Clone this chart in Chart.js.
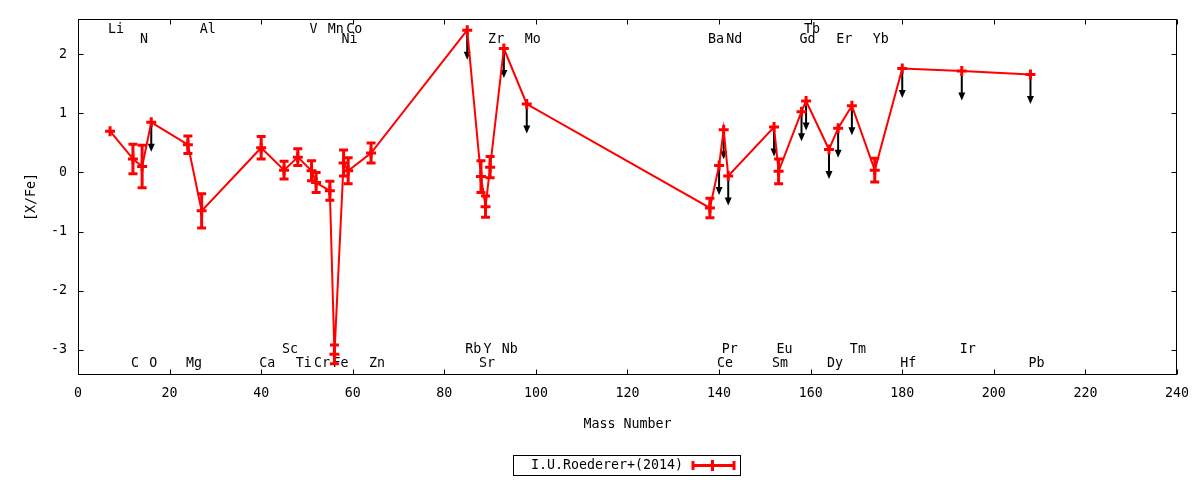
<!DOCTYPE html>
<html>
<head>
<meta charset="utf-8">
<script src="https://cdn.jsdelivr.net/npm/chart.js@4.4.1/dist/chart.umd.min.js"></script>
<style>
  html, body { margin: 0; padding: 0; background: #fff; }
  #wrap { width: 1200px; height: 480px; position: relative; }
</style>
</head>
<body>
<div id="wrap"><canvas id="c" width="1200" height="480"></canvas></div>
<script>
// ---- data ----
const elements = ["Li","C","N","O","Mg","Al","Ca","Sc","Ti","V","Cr","Mn","Fe","Ni","Co","Zn","Rb","Sr","Y","Zr","Nb","Mo","Ba","Ce","Pr","Nd","Sm","Eu","Gd","Tb","Dy","Er","Tm","Yb","Hf","Ir","Pb"];
const masses = [7,12,14,16,24,27,40,45,48,51,52,55,56,58,59,64,85,88,89,90,93,98,138,140,141,142,152,153,158,159,164,166,169,174,180,193,208];
const values = [0.70,0.23,0.10,0.85,0.47,-0.65,0.42,0.04,0.26,0.03,-0.17,-0.31,-3.08,0.16,0.03,0.33,2.41,-0.07,-0.58,0.09,2.10,1.16,-0.60,0.12,0.725,-0.06,0.77,0.02,1.03,1.21,0.39,0.75,1.13,0.04,1.76,1.72,1.66];
const errors = [0,0.25,0.36,0,0.15,0.29,0.19,0.15,0.14,0.17,0.17,0.16,0.16,0.22,0.22,0.17,0,0.27,0.18,0.18,0,0,0.165,0,0,0,0,0.21,0,0,0,0,0,0.2,0,0,0];
const upperLimit = [0,0,0,1,0,0,0,0,0,0,0,0,0,0,0,0,1,0,0,0,1,1,0,1,1,1,1,0,1,1,1,1,1,0,1,1,1];
const arrowLength = 0.5;

const labelNames = ["Li","Al","V","Mn","Co","Tb",
                    "N","Ni","Zr","Mo","Ba","Nd","Gd","Er","Yb",
                    "Sc","Rb","Y","Nb","Pr","Eu","Tm","Ir",
                    "C","O","Mg","Ca","Ti","Cr","Fe","Zn","Sr","Ce","Sm","Dy","Hf","Pb"];
const labelMass = [7,27,51,55,59,159,
                   14,58,90,98,138,142,158,166,174,
                   45,85,89,93,141,153,169,193,
                   12,16,24,40,48,52,56,64,88,140,152,164,180,208];
const labelRow = [0,0,0,0,0,0,
                  1,1,1,1,1,1,1,1,1,
                  2,2,2,2,2,2,2,2,
                  3,3,3,3,3,3,3,3,3,3,3,3,3,3];

const xTicks = [0,20,40,60,80,100,120,140,160,180,200,220,240];
const yTicks = [-3,-2,-1,0,1,2];
const seriesName = "I.U.Roederer+(2014)";
const xTitle = "Mass Number";
const yTitle = "[X/Fe]";

// ---- styling ----
const FONT = "13.3px 'DejaVu Sans Mono'";
const RED = "#ff0000";
Chart.defaults.font.family = "'DejaVu Sans Mono'";
Chart.defaults.font.size = 13.3;
Chart.defaults.color = "#000";

const points = masses.map((m, i) => ({ x: m, y: values[i] }));

const decor = {
  id: 'decor',
  beforeDatasetsDraw(chart) {
    const ctx = chart.ctx;
    const xs = chart.scales.x, ys = chart.scales.y;
    const a = chart.chartArea;
    ctx.save();
    // element labels
    ctx.font = FONT;
    ctx.fillStyle = "#000";
    ctx.textAlign = "left";
    ctx.textBaseline = "middle";
    const rowY = [a.top + 10.5, a.top + 20.5, a.bottom - 25.5, a.bottom - 11.5];
    labelNames.forEach((n, i) => {
      ctx.fillText(n, xs.getPixelForValue(labelMass[i]) - 2, rowY[labelRow[i]]);
    });
    // upper limit arrows
    ctx.strokeStyle = "#000";
    ctx.fillStyle = "#000";
    ctx.lineWidth = 2;
    masses.forEach((m, i) => {
      if (!upperLimit[i]) return;
      const px = xs.getPixelForValue(m);
      const py = ys.getPixelForValue(values[i]);
      const ty = ys.getPixelForValue(values[i] - arrowLength);
      ctx.beginPath();
      ctx.moveTo(px, py);
      ctx.lineTo(px, ty - 4);
      ctx.stroke();
      ctx.beginPath();
      ctx.moveTo(px - 3.5, ty - 8);
      ctx.lineTo(px + 3.5, ty - 8);
      ctx.lineTo(px, ty);
      ctx.closePath();
      ctx.fill();
    });
    // error bars
    ctx.strokeStyle = RED;
    ctx.lineWidth = 3;
    masses.forEach((m, i) => {
      if (!errors[i]) return;
      const px = xs.getPixelForValue(m);
      const y1 = ys.getPixelForValue(values[i] + errors[i]);
      const y2 = ys.getPixelForValue(values[i] - errors[i]);
      ctx.beginPath();
      ctx.moveTo(px, y1); ctx.lineTo(px, y2);
      ctx.moveTo(px - 4.5, y1); ctx.lineTo(px + 4.5, y1);
      ctx.moveTo(px - 4.5, y2); ctx.lineTo(px + 4.5, y2);
      ctx.stroke();
    });
    ctx.restore();
  },
  afterDraw(chart) {
    const ctx = chart.ctx;
    const xs = chart.scales.x, ys = chart.scales.y;
    const a = chart.chartArea;
    ctx.save();
    // frame
    const L = Math.round(a.left) + 0.5, R = Math.round(a.right) - 0.5;
    const T = Math.round(a.top) + 0.5, B = Math.round(a.bottom) - 0.5;
    ctx.strokeStyle = "#000";
    ctx.lineWidth = 1;
    ctx.strokeRect(L, T, R - L, B - T);
    // inward ticks on all sides
    const tl = 5;
    ctx.beginPath();
    xTicks.forEach(v => {
      const p = Math.round(xs.getPixelForValue(v)) + 0.5;
      ctx.moveTo(p, B); ctx.lineTo(p, B - tl);
      ctx.moveTo(p, T); ctx.lineTo(p, T + tl);
    });
    yTicks.forEach(v => {
      const p = Math.round(ys.getPixelForValue(v)) + 0.5;
      ctx.moveTo(L, p); ctx.lineTo(L + tl, p);
      ctx.moveTo(R, p); ctx.lineTo(R - tl, p);
    });
    ctx.stroke();
    // axis titles
    ctx.font = FONT;
    ctx.fillStyle = "#000";
    ctx.textAlign = "center";
    ctx.textBaseline = "middle";
    ctx.fillText(xTitle, (a.left + a.right) / 2, a.bottom + 50);
    ctx.save();
    ctx.translate(31.5, (a.top + a.bottom) / 2);
    ctx.rotate(-Math.PI / 2);
    ctx.fillText(yTitle, 0, 0);
    ctx.restore();
    // legend
    ctx.strokeRect(513.5, 455.5, 227, 20);
    ctx.textAlign = "right";
    ctx.fillText(seriesName, 683, 466);
    ctx.strokeStyle = RED;
    ctx.lineWidth = 3;
    ctx.beginPath();
    ctx.moveTo(692, 465.5); ctx.lineTo(735, 465.5);
    ctx.moveTo(693, 461); ctx.lineTo(693, 470);
    ctx.moveTo(734, 461); ctx.lineTo(734, 470);
    ctx.moveTo(712.5, 460); ctx.lineTo(712.5, 471);
    ctx.stroke();
    ctx.restore();
  }
};

new Chart(document.getElementById('c'), {
  type: 'scatter',
  data: {
    datasets: [{
      label: seriesName,
      data: points,
      showLine: true,
      borderColor: RED,
      backgroundColor: RED,
      borderWidth: 2,
      tension: 0,
      pointStyle: 'cross',
      pointRadius: 5,
      pointBorderWidth: 3,
      pointBorderColor: RED
    }]
  },
  options: {
    responsive: false,
    animation: false,
    devicePixelRatio: 1,
    layout: { padding: { top: 17, right: 23, left: 0, bottom: 0 } },
    plugins: { legend: { display: false }, tooltip: { enabled: false } },
    scales: {
      x: {
        type: 'linear', min: 0, max: 240,
        grid: { display: false, drawTicks: false },
        border: { display: false },
        afterBuildTicks: s => { s.ticks = xTicks.map(v => ({ value: v })); },
        afterFit: s => { s.height = 105; },
        ticks: { padding: 11, maxRotation: 0, autoSkip: false, color: "#000" }
      },
      y: {
        type: 'linear', min: -3.43, max: 2.6,
        grid: { display: false, drawTicks: false },
        border: { display: false },
        afterBuildTicks: s => { s.ticks = yTicks.map(v => ({ value: v })); },
        afterFit: s => { s.width = 78; },
        ticks: { padding: 11, autoSkip: false, color: "#000" }
      }
    }
  },
  plugins: [decor]
});
</script>
</body>
</html>
